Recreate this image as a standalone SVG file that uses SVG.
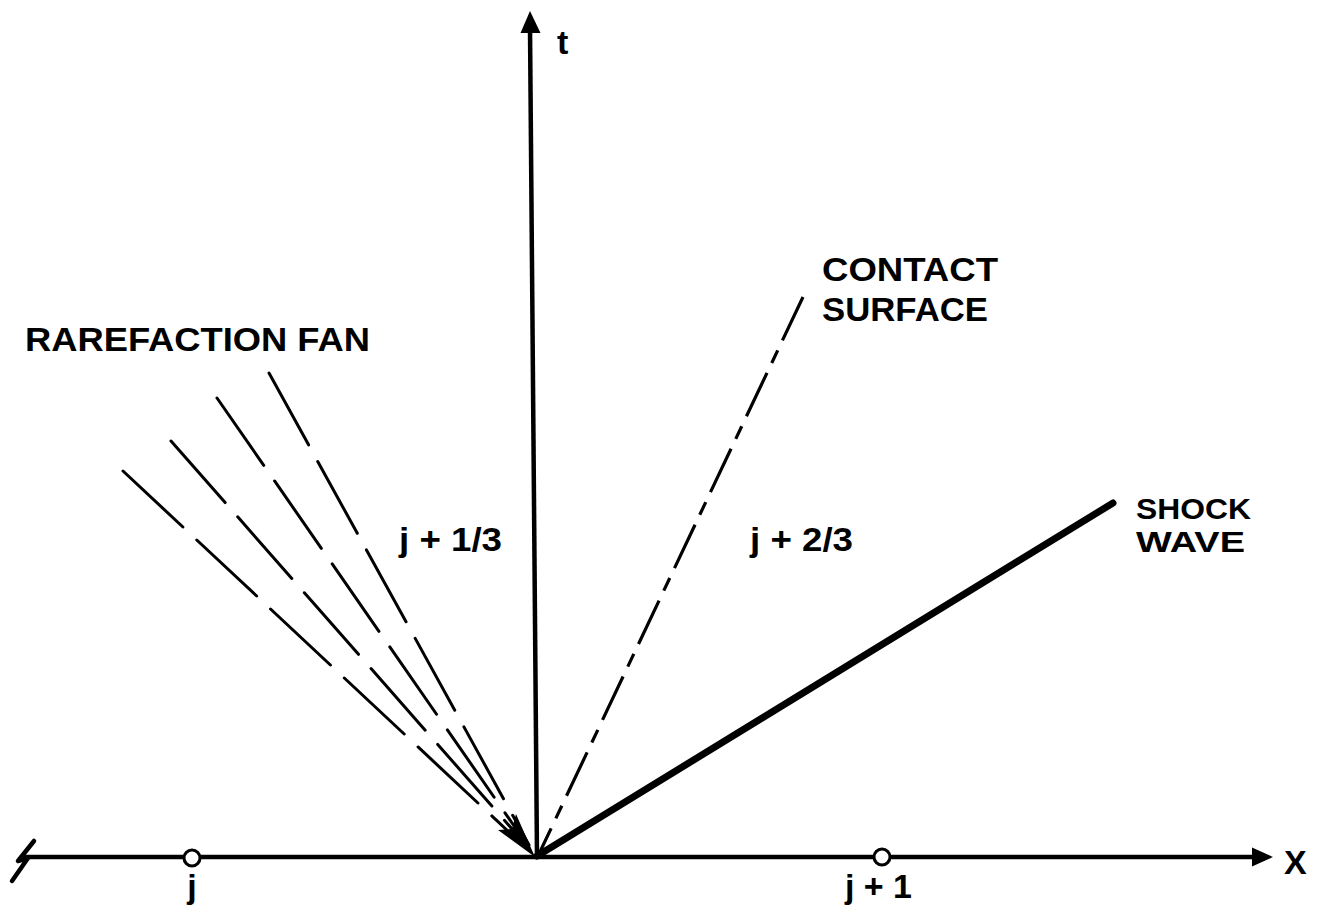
<svg xmlns="http://www.w3.org/2000/svg" width="1326" height="923" viewBox="0 0 1326 923">
<style>
  .lbl { font-family: "Liberation Sans", Arial, sans-serif; font-weight: bold; font-size: 34px; fill: #000; }
  .sm { font-size: 29px; }
  .axis { stroke: #000; stroke-width: 4.5; fill: none; }
  .fan { stroke: #000; stroke-width: 3; fill: none; stroke-dasharray: 82 19; stroke-linecap: round; }
  .contact { stroke: #000; stroke-width: 3.2; fill: none; stroke-dasharray: 48 11 14 11; }
  .shock { stroke: #000; stroke-width: 7; fill: none; stroke-linecap: round; }
  .node { fill: #fff; stroke: #000; stroke-width: 3; }
</style>
<rect width="1326" height="923" fill="#fff"/>
<g id="connectors">
  <line id="x-axis" class="axis" x1="24" y1="857" x2="1256" y2="857"/>
  <polygon points="1252,847.5 1273,857 1252,866.5" fill="#000"/>
  <line id="t-axis" class="axis" x1="537" y1="857" x2="530" y2="28"/>
  <polygon points="520.5,33 530,11 540.5,33" fill="#000"/>
  <path d="M34,841 L18,861 L28,858 L12,881" stroke="#000" stroke-width="4.5" fill="none" stroke-linejoin="round" stroke-linecap="round"/>
  <line class="fan" x1="123" y1="471" x2="525" y2="847" stroke-dasharray="60 18 82 19"/>
  <line class="fan" x1="171" y1="441" x2="527" y2="846"/>
  <line class="fan" x1="217" y1="398" x2="528" y2="846"/>
  <line class="fan" x1="269" y1="373" x2="529" y2="845"/>
  <polygon points="535,857 498,830 512,829 516,814" fill="#000"/>
  <line class="contact" x1="803" y1="297" x2="538" y2="856"/>
  <line class="shock" x1="537" y1="856" x2="1113" y2="503"/>
</g>
<g id="node-j">
  <circle class="node" cx="192" cy="858" r="8"/>
  <text class="lbl" x="192" y="898" text-anchor="middle">j</text>
</g>
<g id="node-j1">
  <circle class="node" cx="882" cy="857" r="8"/>
  <text class="lbl" x="845" y="898" textLength="67" lengthAdjust="spacingAndGlyphs">j + 1</text>
</g>
<g id="label-t"><text class="lbl" x="557" y="54">t</text></g>
<g id="label-x"><text class="lbl" x="1284" y="874">X</text></g>
<g id="label-rarefaction"><text class="lbl" x="25" y="351" textLength="345" lengthAdjust="spacingAndGlyphs">RAREFACTION FAN</text></g>
<g id="label-contact">
  <text class="lbl" x="822" y="281" textLength="176" lengthAdjust="spacingAndGlyphs">CONTACT</text>
  <text class="lbl" x="822" y="321" textLength="166" lengthAdjust="spacingAndGlyphs">SURFACE</text>
</g>
<g id="label-shock">
  <text class="lbl sm" x="1136" y="519" textLength="115" lengthAdjust="spacingAndGlyphs">SHOCK</text>
  <text class="lbl sm" x="1136" y="552" textLength="109" lengthAdjust="spacingAndGlyphs">WAVE</text>
</g>
<g id="label-j13"><text class="lbl" x="399" y="551" textLength="103" lengthAdjust="spacingAndGlyphs">j + 1/3</text></g>
<g id="label-j23"><text class="lbl" x="750" y="551" textLength="103" lengthAdjust="spacingAndGlyphs">j + 2/3</text></g>
</svg>
